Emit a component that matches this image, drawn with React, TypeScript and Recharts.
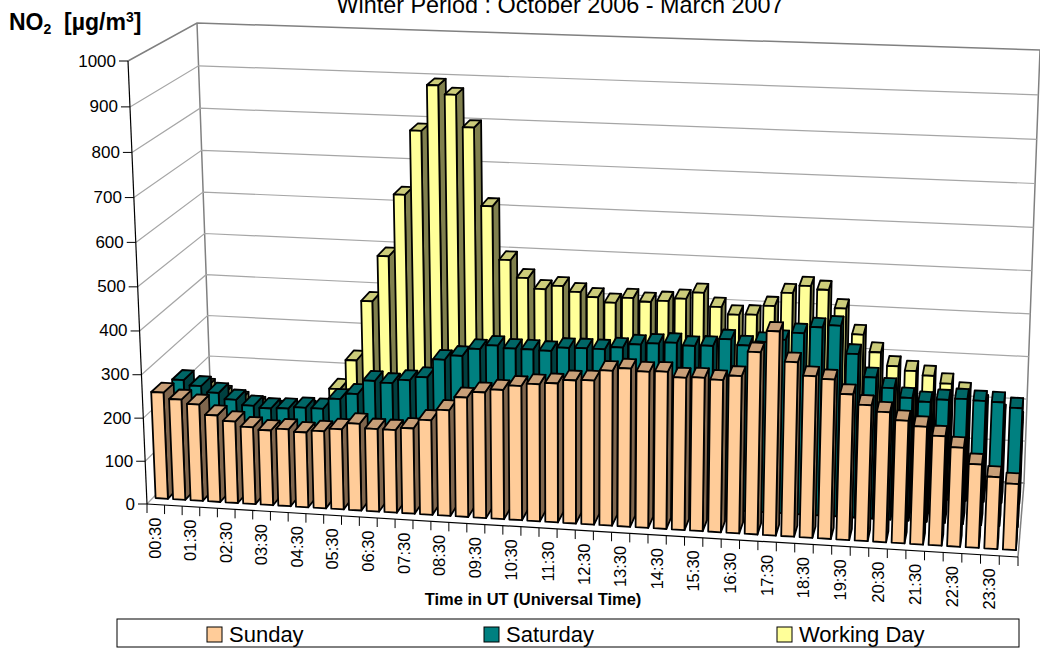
import { BarChart, Bar, XAxis, YAxis, CartesianGrid } from 'recharts';

const WIDTH = 1040;
const HEIGHT = 649;
// axes need at least 1px of room or they draw nothing
const PLOT_LEFT = 1;
const PLOT_WIDTH = WIDTH - 1;
const PLOT_HEIGHT = HEIGHT - 1;
const FONT = '"Liberation Sans", Arial, sans-serif';

const times = [
  '00:30', '01:00', '01:30', '02:00', '02:30', '03:00', '03:30', '04:00',
  '04:30', '05:00', '05:30', '06:00', '06:30', '07:00', '07:30', '08:00',
  '08:30', '09:00', '09:30', '10:00', '10:30', '11:00', '11:30', '12:00',
  '12:30', '13:00', '13:30', '14:00', '14:30', '15:00', '15:30', '16:00',
  '16:30', '17:00', '17:30', '18:00', '18:30', '19:00', '19:30', '20:00',
  '20:30', '21:00', '21:30', '22:00', '22:30', '23:00', '23:30', '24:00',
];

const sunday = [
  248, 234, 225, 202, 190, 179, 174, 179, 174, 179, 186, 201,
  191, 191, 197, 218, 243, 274, 288, 296, 307, 313, 317, 326,
  328, 352, 359, 354, 356, 345, 347, 344, 355, 410, 458, 392,
  363, 358, 327, 305, 292, 275, 264, 245, 222, 187, 161, 148,
];

const saturday = [
  233, 221, 207, 193, 181, 177, 179, 183, 183, 208, 222, 255,
  252, 261, 270, 313, 324, 342, 352, 347, 347, 346, 355, 356,
  356, 362, 371, 375, 379, 374, 376, 393, 381, 391, 398, 415,
  430, 436, 374, 323, 301, 281, 274, 281, 285, 283, 282, 271,
];

const workingDay = [
  165, 150, 138, 128, 120, 120, 125, 128, 182, 253, 396, 504,
  649, 798, 903, 883, 810, 631, 508, 468, 444, 453, 441, 431,
  420, 433, 426, 430, 437, 453, 422, 406, 408, 430, 462, 480,
  473, 432, 374, 335, 305, 296, 287, 271, 252, 225, 205, 190,
];

const valueTicks = [0, 100, 200, 300, 400, 500, 600, 700, 800, 900, 1000];

const tableData = times.map((time, i) => ({
  time,
  sunday: sunday[i],
  saturday: saturday[i],
  workingDay: workingDay[i],
}));

// the eight corners of the plot box as they sit in the picture
const box = {
  frontBottomLeft: [147, 504],
  frontTopLeft: [128, 61],
  backBottomLeft: [212, 436],
  backTopLeft: [197, 23],
  frontBottomRight: [1018, 557],
  frontTopRight: [1038, 93],
  backBottomRight: [1024, 483],
  backTopRight: [1040, 50],
};

const warp = (t: number, a: number) => t / (a + (1 - a) * t);
const mix = (a: number[], b: number[], t: number) => [a[0] + (b[0] - a[0]) * t, a[1] + (b[1] - a[1]) * t];

// u: along time, v: along value, d: into the picture, all 0..1
function project(u: number, v: number, d: number) {
  const U = warp(u, 1.034);
  const V = warp(v, 1.04);
  const frontBottom = mix(box.frontBottomLeft, box.frontBottomRight, U);
  const frontTop = mix(box.frontTopLeft, box.frontTopRight, U);
  const backBottom = mix(box.backBottomLeft, box.backBottomRight, U);
  const backTop = mix(box.backTopLeft, box.backTopRight, U);
  return mix(mix(frontBottom, frontTop, V), mix(backBottom, backTop, V), d);
}

const toPoints = (pts: number[][]) => pts.map((p) => `${p[0].toFixed(1)},${p[1].toFixed(1)}`).join(' ');

const toU = (x: number) => (x - PLOT_LEFT) / PLOT_WIDTH;
const toV = (y: number) => (PLOT_HEIGHT - y) / PLOT_HEIGHT;

function makeBox3D(front: string, top: string, side: string, d0: number, d1: number, face: number) {
  return function Box3D(props: any) {
    const { x, y, width, height } = props;
    if (!height) return null;
    const center = toU(x + width / 2);
    const half = face / times.length / 2;
    const u0 = center - half;
    const u1 = center + half;
    const v = toV(y);
    return (
      <g stroke="#000" strokeWidth={1.8} strokeLinejoin="round">
        <polygon
          fill={side}
          points={toPoints([project(u1, 0, d0), project(u1, v, d0), project(u1, v, d1), project(u1, 0, d1)])}
        />
        <polygon
          fill={top}
          points={toPoints([project(u0, v, d0), project(u1, v, d0), project(u1, v, d1), project(u0, v, d1)])}
        />
        <polygon
          fill={front}
          points={toPoints([project(u0, 0, d0), project(u1, 0, d0), project(u1, v, d0), project(u0, v, d0)])}
        />
      </g>
    );
  };
}

const SundayBox = makeBox3D('#FFCC99', '#C89F78', '#80664D', 0.09, 0.245, 0.7);
const SaturdayBox = makeBox3D('#008080', '#006666', '#004040', 0.4, 0.555, 0.67);
const WorkingBox = makeBox3D('#FFFF99', '#CCCC7A', '#80804D', 0.715, 0.87, 0.64);

// walls: one L-shaped line per value tick
function WallLine(props: any) {
  const v = toV(props.y1);
  const a = project(0, v, 0);
  const b = project(0, v, 1);
  const c = project(1, v, 1);
  const last = v > 0.99;
  return (
    <g key={props.key} fill="none">
      <polyline
        points={toPoints([a, b, c])}
        stroke={last ? '#808080' : '#a6a6a6'}
        strokeWidth={last ? 1.5 : 1.2}
      />
      {v < 0.01 && (
        <polyline
          points={toPoints([project(0, 1, 1), project(0, 0, 1), project(1, 0, 1), project(1, 1, 1)])}
          stroke="#808080"
          strokeWidth={1.5}
        />
      )}
      {v < 0.01 && (
        <polyline points={toPoints([project(1, 0, 0), project(1, 0, 1)])} stroke="#808080" strokeWidth={1.5} />
      )}
    </g>
  );
}

function TimeTick(props: any) {
  const { x, index } = props;
  const left = index / times.length;
  const a = project(left, 0, 0);
  const end = project(1, 0, 0);
  const label = project(toU(x), 0, 0);
  return (
    <g>
      <line x1={a[0]} y1={a[1]} x2={a[0]} y2={a[1] + 9} stroke="#000" strokeWidth={1} />
      {index === times.length - 1 && (
        <line x1={end[0]} y1={end[1]} x2={end[0]} y2={end[1] + 9} stroke="#000" strokeWidth={1} />
      )}
      {index === 0 && (
        <line x1={a[0]} y1={a[1]} x2={end[0]} y2={end[1]} stroke="#000" strokeWidth={1.2} />
      )}
      {index % 2 === 0 && (
        <text
          transform={`translate(${label[0] + 5.5},${label[1] + 13}) rotate(-90)`}
          textAnchor="end"
          fontFamily={FONT}
          fontSize={16.5}
          fill="#000"
        >
          {props.payload.value}
        </text>
      )}
    </g>
  );
}

function ValueTick(props: any) {
  const v = toV(props.y);
  const p = project(0, v, 0);
  return (
    <g>
      <line x1={p[0] - 9} y1={p[1]} x2={p[0]} y2={p[1]} stroke="#000" strokeWidth={1} />
      {props.payload.value === 0 && (
        <line
          x1={p[0]}
          y1={p[1]}
          x2={project(0, 1, 0)[0]}
          y2={project(0, 1, 0)[1]}
          stroke="#000"
          strokeWidth={1.2}
        />
      )}
      <text x={p[0] - 12} y={p[1] + 5.5} textAnchor="end" fontFamily={FONT} fontSize={17} fill="#000">
        {props.payload.value}
      </text>
    </g>
  );
}

const legendItems = [
  { label: 'Sunday', color: '#FFCC99', x: 207 },
  { label: 'Saturday', color: '#008080', x: 484 },
  { label: 'Working Day', color: '#FFFF99', x: 777 },
];

export default function App() {
  return (
    <div style={{ position: 'absolute', left: 0, top: 0, width: WIDTH, height: HEIGHT, background: '#fff' }}>
      <BarChart
        width={WIDTH}
        height={HEIGHT}
        data={tableData}
        margin={{ top: 0, right: 0, bottom: 0, left: 0 }}
        barCategoryGap="14%"
      >
        <XAxis
          dataKey="time"
          height={1}
          interval={0}
          axisLine={false}
          tickLine={false}
          tick={TimeTick}
        />
        <XAxis dataKey="time" xAxisId="sat" hide />
        <XAxis dataKey="time" xAxisId="work" hide />
        <YAxis
          width={1}
          domain={[0, 1000]}
          ticks={valueTicks}
          interval={0}
          axisLine={false}
          tickLine={false}
          tick={ValueTick}
        />
        <CartesianGrid vertical={false} horizontal={WallLine} />
        <Bar dataKey="workingDay" name="Working Day" xAxisId="work" shape={WorkingBox} isAnimationActive={false} />
        <Bar dataKey="saturday" name="Saturday" xAxisId="sat" shape={SaturdayBox} isAnimationActive={false} />
        <Bar dataKey="sunday" name="Sunday" shape={SundayBox} isAnimationActive={false} />

        <text x={560} y={13} textAnchor="middle" fontFamily={FONT} fontSize={23.4} fill="#000">
          Winter Period : October 2006 - March 2007
        </text>
        <text x={9} y={30} fontFamily={FONT} fontSize={23} fontWeight="bold" fill="#000">
          NO<tspan fontSize={14} dy={4}>2</tspan>
          <tspan dy={-4} xmlSpace="preserve">{'  [µg/m'}</tspan>
          <tspan fontSize={14} dy={-8}>3</tspan>
          <tspan dy={8}>]</tspan>
        </text>
        <text x={533} y={605} textAnchor="middle" fontFamily={FONT} fontSize={16.5} fontWeight="bold" fill="#000">
          Time in UT (Universal Time)
        </text>

        <rect x={117} y={619} width={902} height={28} fill="#fff" stroke="#000" strokeWidth={1} />
        {legendItems.map((item) => (
          <g key={item.label}>
            <rect x={item.x} y={627} width={15} height={15} fill={item.color} stroke="#000" strokeWidth={1} />
            <text x={item.x + 22} y={642} fontFamily={FONT} fontSize={22} fill="#000">
              {item.label}
            </text>
          </g>
        ))}
      </BarChart>
    </div>
  );
}
